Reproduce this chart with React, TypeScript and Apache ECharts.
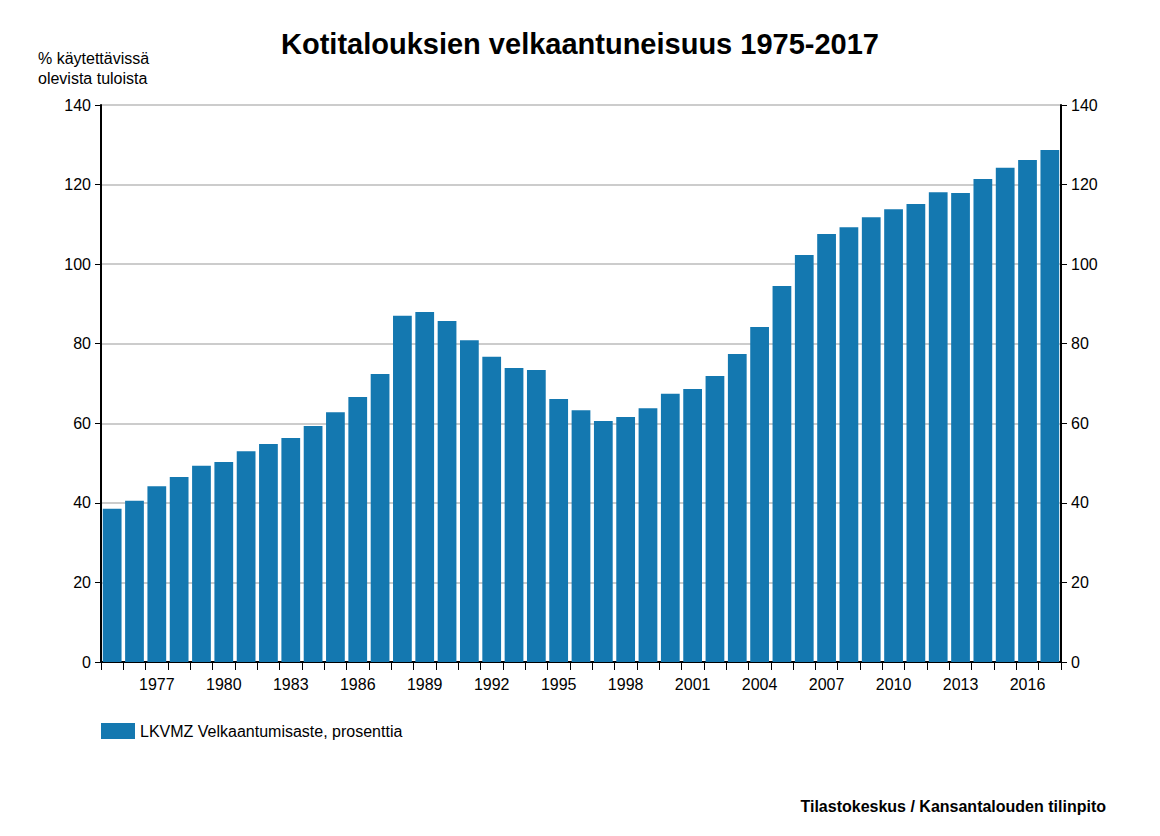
import React, { useEffect, useRef } from "react";
import * as echarts from "echarts";

const years = Array.from({ length: 43 }, (_, i) => String(1975 + i));
const values = [38.5, 40.5, 44.2, 46.5, 49.3, 50.3, 53.0, 54.8, 56.3, 59.3, 62.8, 66.6, 72.4, 87.0, 88.0, 85.7, 80.9, 76.7, 73.9, 73.4, 66.1, 63.3, 60.6, 61.6, 63.8, 67.4, 68.6, 71.9, 77.4, 84.2, 94.5, 102.3, 107.6, 109.3, 111.8, 113.8, 115.1, 118.1, 117.9, 121.4, 124.2, 126.2, 128.7];
const seriesName = "LKVMZ Velkaantumisaste, prosenttia";

export default function App() {
  const ref = useRef<HTMLDivElement>(null);
  useEffect(() => {
    const chart = echarts.init(ref.current!, null, { renderer: "svg" });
    const font = "Liberation Sans, Arial, sans-serif";
    const yAxisBase = {
      type: "value", min: 0, max: 140, interval: 20,
      axisLine: { show: true, lineStyle: { color: "#000", width: 2 } },
      axisTick: { show: true, length: 6, lineStyle: { color: "#000" } },
      axisLabel: { color: "#000", fontSize: 16, fontFamily: font, margin: 10 },
    };
    chart.setOption({
      animation: false,
      textStyle: { fontFamily: font },
      title: {
        text: "Kotitalouksien velkaantuneisuus 1975-2017", left: "center", top: 16,
        textStyle: { fontSize: 29, fontWeight: "bold", color: "#000", fontFamily: font },
      },
      grid: { left: 93, right: 91, top: 97, bottom: 166 },
      legend: {
        left: 88, top: 710, itemWidth: 34, itemHeight: 16, itemGap: 8,
        textStyle: { fontSize: 16, color: "#000", fontFamily: font },
        data: [{ name: seriesName, icon: "rect" }],
      },
      graphic: [
        { type: "text", left: 30, top: 40, style: { text: "% käytettävissä\nolevista tuloista", fontSize: 16, fill: "#000", fontFamily: font, align: "center", lineHeight: 20 } },
        { type: "text", right: 46, top: 790, style: { text: "Tilastokeskus / Kansantalouden tilinpito", fontSize: 16, fontWeight: "bold", fill: "#000", fontFamily: font } },
      ],
      xAxis: {
        type: "category", data: years,
        axisLine: { lineStyle: { color: "#000", width: 2 } },
        axisTick: { show: true, length: 8, lineStyle: { color: "#000" }, interval: 0 },
        axisLabel: { color: "#000", fontSize: 16, fontFamily: font, margin: 14, interval: (i: number) => i >= 2 && (i - 2) % 3 === 0 },
      },
      yAxis: [
        { ...yAxisBase, position: "left", splitLine: { lineStyle: { color: "#bbb", width: 1.5 } } },
        { ...yAxisBase, position: "right", splitLine: { show: false } },
      ],
      series: [{
        name: seriesName, type: "bar", data: values, barCategoryGap: "16%",
        itemStyle: { color: "#1478b0" },
      }],
    });
    return () => chart.dispose();
  }, []);
  return <div ref={ref} style={{ width: 1144, height: 820 }} />;
}
